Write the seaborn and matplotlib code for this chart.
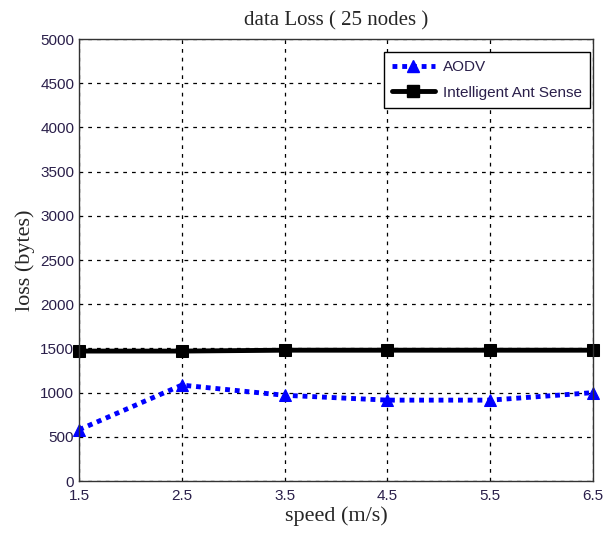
import numpy as np
import pandas as pd
import matplotlib
matplotlib.use("Agg")
import matplotlib.pyplot as plt
import seaborn as sns
from matplotlib.lines import Line2D

# ---- data ----
speed = [1.5, 2.5, 3.5, 4.5, 5.5, 6.5]
aodv_loss = [580, 1085, 970, 915, 915, 1000]
ant_loss = [1470, 1470, 1480, 1480, 1480, 1480]
x_ticks = [1.5, 2.5, 3.5, 4.5, 5.5, 6.5]
y_ticks = list(range(0, 5001, 500))

df = pd.DataFrame({
    "speed": speed * 2,
    "loss": aodv_loss + ant_loss,
    "protocol": ["AODV"] * len(speed) + ["Intelligent Ant Sense"] * len(speed),
})

sns.set_style("white")
tick_font = ["Liberation Sans Narrow", "Liberation Sans", "DejaVu Sans"]
serif_font = ["Liberation Serif", "DejaVu Serif"]
txt_col = "#2a1f4a"

fig = plt.figure(figsize=(6.14, 5.35), dpi=100)
ax = fig.add_axes([0.1287, 0.1009, 0.8371, 0.8261])

sns.lineplot(data=df, x="speed", y="loss", hue="protocol", style="protocol",
             palette={"AODV": "#0000ff", "Intelligent Ant Sense": "black"},
             markers={"AODV": "^", "Intelligent Ant Sense": "s"},
             dashes={"AODV": (1, 1), "Intelligent Ant Sense": ""},
             markersize=9, linewidth=3.5,
             ax=ax, legend=False)
for ln, c in zip(ax.get_lines(), ["#0000ff", "black"]):
    ln.set_markeredgecolor(c)
    ln.set_markerfacecolor(c)
    ln.set_clip_on(False)

ax.set_xlim(1.5, 6.5)
ax.set_ylim(0, 5000)
ax.set_xticks(x_ticks)
ax.set_yticks(y_ticks)
ax.set_xticklabels([str(t) for t in x_ticks], family=tick_font, fontsize=11)
ax.set_yticklabels([str(t) for t in y_ticks], family=tick_font, fontsize=11)
ax.tick_params(axis="x", pad=6)
ax.tick_params(direction="in", length=5, colors="black", labelcolor=txt_col)
ax.grid(True, color="black", linestyle=(0, (3, 4)), linewidth=0.9)
for sp in ax.spines.values():
    sp.set_color("#333333")
    sp.set_linewidth(1.0)

ax.set_title("data Loss ( 25 nodes )", family=serif_font, fontsize=15, pad=10)
ax.set_xlabel("speed (m/s)", family=serif_font, fontsize=16, labelpad=2)
ax.set_ylabel("loss (bytes)", family=serif_font, fontsize=16, labelpad=4)

handles = [
    Line2D([], [], color="#0000ff", linestyle=(0, (1, 1)), linewidth=3.5,
           marker="^", markersize=9),
    Line2D([], [], color="black", linewidth=3.5, marker="s", markersize=9),
]
leg = ax.legend(handles, ["AODV", "Intelligent Ant Sense"], loc="upper right",
                bbox_to_anchor=(0.994, 0.971), borderaxespad=0,
                fancybox=False, framealpha=1,
                edgecolor="black", prop={"family": tick_font, "size": 11},
                handlelength=2.8, handletextpad=0.5, borderpad=0.55,
                labelspacing=0.75)
leg.get_frame().set_linewidth(1.0)
for t in leg.get_texts():
    t.set_color(txt_col)

fig.savefig("out.png", dpi=100)
